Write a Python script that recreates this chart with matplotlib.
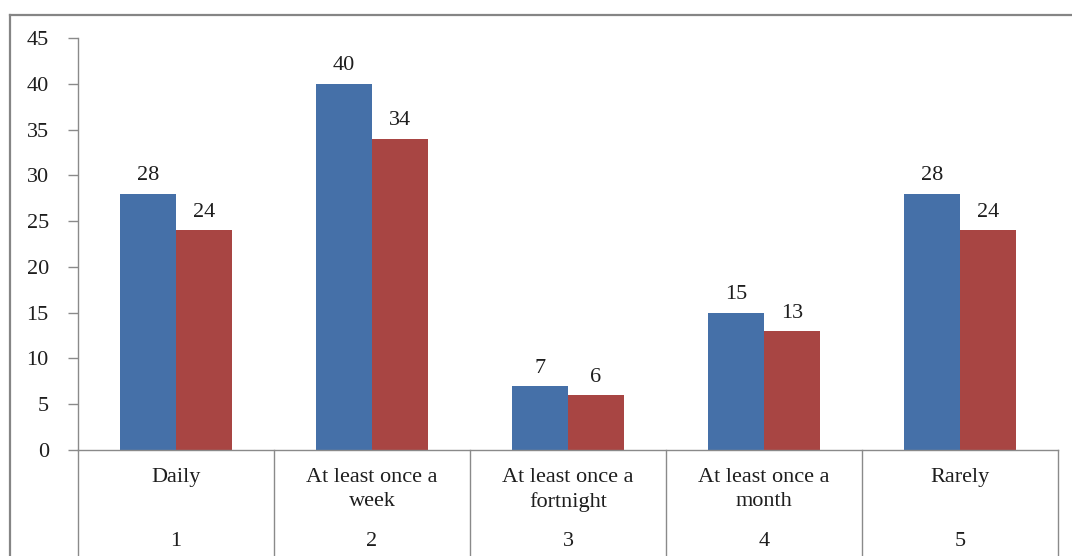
import matplotlib
matplotlib.use("Agg")
import matplotlib.pyplot as plt
from matplotlib.lines import Line2D
from matplotlib.transforms import blended_transform_factory

categories = ["Daily", "At least once a\nweek", "At least once a\nfortnight",
              "At least once a\nmonth", "Rarely"]
category_numbers = ["1", "2", "3", "4", "5"]
series_a = [28, 40, 7, 15, 28]
series_b = [24, 34, 6, 13, 24]
y_ticks = [0, 5, 10, 15, 20, 25, 30, 35, 40, 45]

BLUE = "#4570A8"
RED = "#A84543"
FONT = "Liberation Serif"
FS = 16
TEXT = "#1e1e1e"

W, H = 1072, 556
fig = plt.figure(figsize=(W / 100, H / 100), dpi=100)
fig.patch.set_facecolor("white")

ax = fig.add_axes([78 / W, (H - 450) / H, (1058 - 78) / W, 412 / H])
n = len(categories)
bw = 0.286
for i in range(n):
    c = i + 0.5
    ax.bar(c - bw / 2, series_a[i], width=bw, color=BLUE, linewidth=0)
    ax.bar(c + bw / 2, series_b[i], width=bw, color=RED, linewidth=0)
    for xc, v in ((c - bw / 2, series_a[i]), (c + bw / 2, series_b[i])):
        ax.annotate(str(v), (xc, v), xytext=(0, 6), textcoords="offset points",
                    ha="center", va="bottom", fontsize=FS, family=FONT, color=TEXT)

ax.set_xlim(0, n)
ax.set_ylim(0, 45)
ax.set_yticks(y_ticks)
ax.set_yticklabels([str(t) for t in y_ticks], family=FONT, fontsize=FS, color=TEXT)
ax.set_xticks([])
for s in ("top", "right"):
    ax.spines[s].set_visible(False)
for s in ("left", "bottom"):
    ax.spines[s].set_color("#8a8a8a")
    ax.spines[s].set_linewidth(1.0)
ax.tick_params(axis="y", length=7, width=1.0, color="#8a8a8a", pad=14)

trans_fig = blended_transform_factory(ax.transData, fig.transFigure)

# Category separators running below the axis
for b in range(n + 1):
    fig.add_artist(Line2D([b, b], [(H - 450) / H, 0], transform=trans_fig,
                          color="#8a8a8a", linewidth=1.0))

# Category names and numbers under the axis
for i in range(n):
    c = i + 0.5
    fig.text(c, (H - 468) / H, categories[i], transform=trans_fig, ha="center", va="top",
             family=FONT, fontsize=FS, linespacing=1.35, color=TEXT)
    fig.text(c, (H - 542) / H, category_numbers[i], transform=trans_fig, ha="center",
             va="center", family=FONT, fontsize=FS, color=TEXT)

# Outer frame
fig.add_artist(Line2D([10 / W, 10 / W], [(H - 15) / H, 0], transform=fig.transFigure,
                      color="#858585", linewidth=1.6))
fig.add_artist(Line2D([10 / W, 1], [(H - 15) / H, (H - 15) / H], transform=fig.transFigure,
                      color="#858585", linewidth=1.6))

fig.savefig("out.png", dpi=100, facecolor="white")
